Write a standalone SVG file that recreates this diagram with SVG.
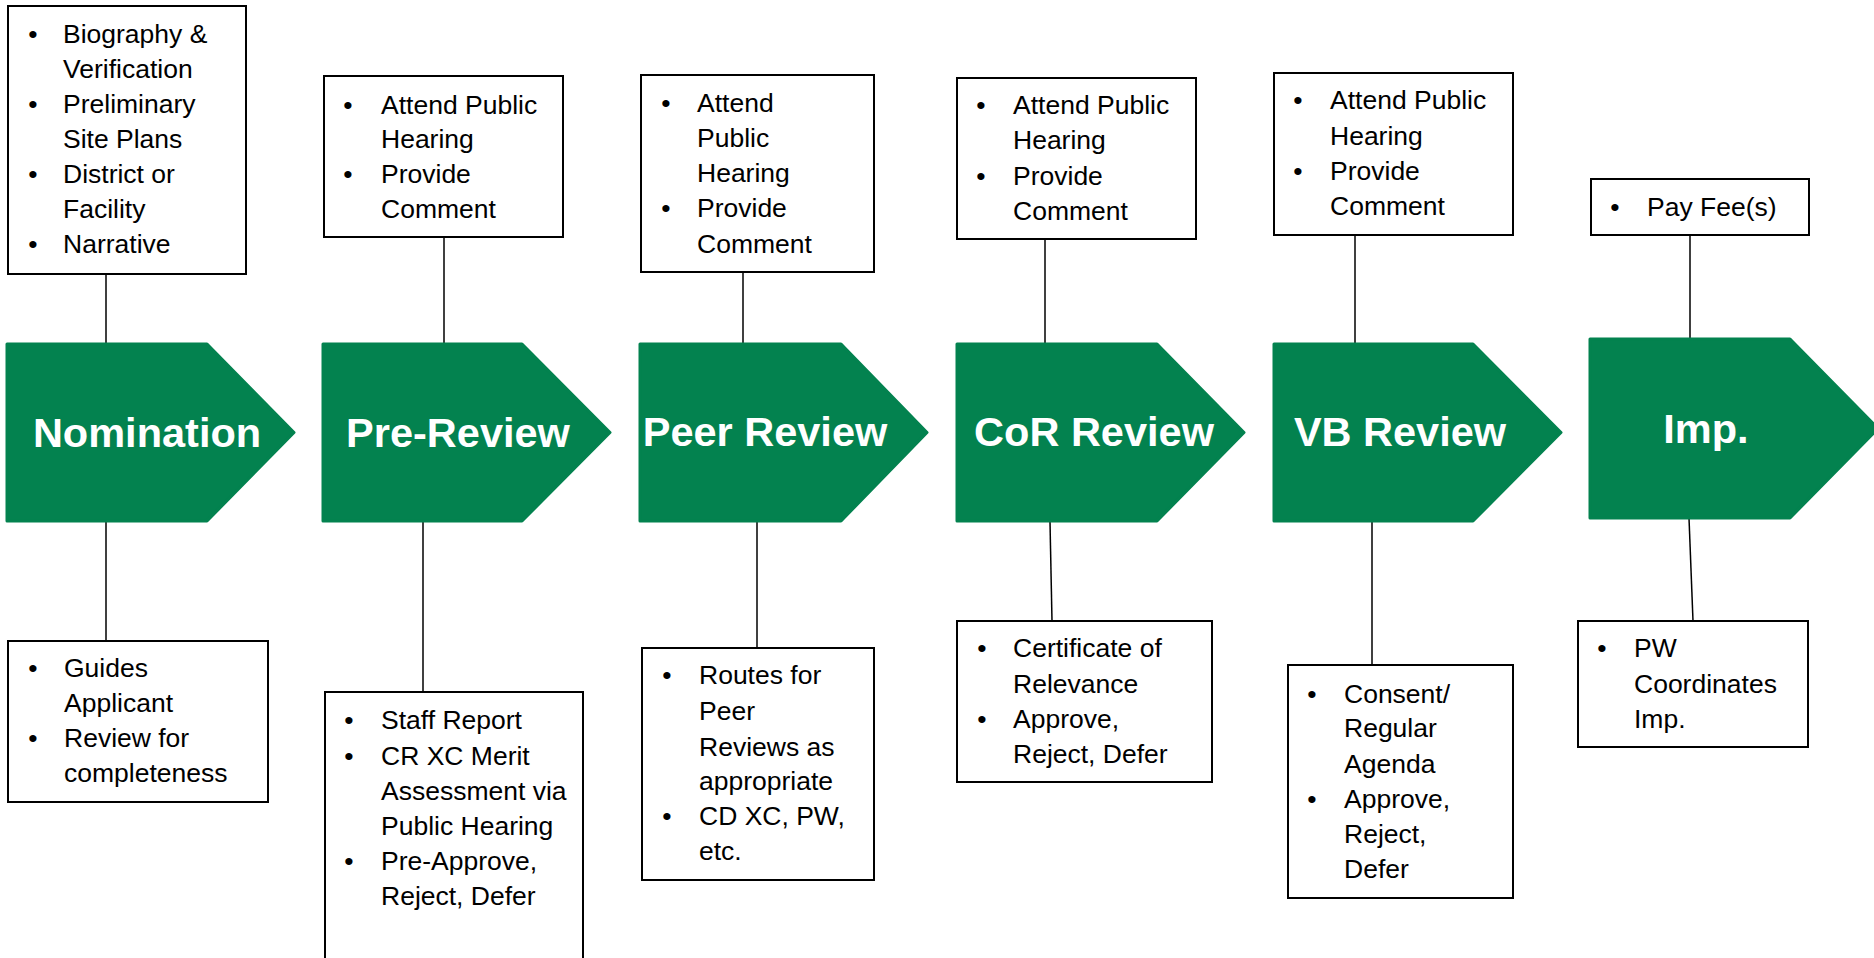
<svg xmlns="http://www.w3.org/2000/svg" width="1874" height="958" viewBox="0 0 1874 958">
<style>
.bg{fill:#ffffff}
.chev{fill:#03824f;stroke:#03824f;stroke-width:3;stroke-linejoin:round}
.lbl{font-family:"Liberation Sans",Arial,sans-serif;font-weight:bold;font-size:41.5px;fill:#ffffff;text-anchor:middle}
.box{fill:#ffffff;stroke:#000000;stroke-width:2}
.t{font-family:"Liberation Sans",Arial,sans-serif;font-size:26.5px;fill:#000000}
.b{font-family:"Liberation Sans",Arial,sans-serif;font-size:26.5px;fill:#000000;text-anchor:middle}
.conn line{stroke:#000000;stroke-width:1.5}
</style>
<rect class="bg" x="0" y="0" width="1874" height="958"/>

<g id="connectors" class="conn">
  <line x1="106" y1="274" x2="106" y2="343"/>
  <line x1="106" y1="522" x2="106" y2="641"/>
  <line x1="444" y1="237" x2="444" y2="347"/>
  <line x1="423" y1="522" x2="423" y2="692"/>
  <line x1="743" y1="272" x2="743" y2="343"/>
  <line x1="757" y1="522" x2="757" y2="648"/>
  <line x1="1045" y1="239" x2="1045" y2="343"/>
  <line x1="1050" y1="522" x2="1052" y2="621"/>
  <line x1="1355" y1="235" x2="1355" y2="343"/>
  <line x1="1372" y1="522" x2="1372" y2="665"/>
  <line x1="1690" y1="235" x2="1690" y2="339"/>
  <line x1="1689" y1="518" x2="1693" y2="621"/>
</g>

<g id="nomination">
  <path class="chev" d="M7,344 L207,344 L294,432.5 L207,521 L7,521 Z"/>
  <text class="lbl" x="147" y="447">Nomination</text>
</g>
<g id="pre-review">
  <path class="chev" d="M323,344 L522,344 L610,432.5 L522,521 L323,521 Z"/>
  <text class="lbl" x="458" y="447">Pre-Review</text>
</g>
<g id="peer-review">
  <path class="chev" d="M640,344 L841,344 L927,432.5 L841,521 L640,521 Z"/>
  <text class="lbl" x="765" y="446">Peer Review</text>
</g>
<g id="cor-review">
  <path class="chev" d="M957,344 L1157,344 L1244,432.5 L1157,521 L957,521 Z"/>
  <text class="lbl" x="1094" y="446">CoR Review</text>
</g>
<g id="vb-review">
  <path class="chev" d="M1274,344 L1473,344 L1561,432.5 L1473,521 L1274,521 Z"/>
  <text class="lbl" x="1400" y="446">VB Review</text>
</g>
<g id="imp">
  <path class="chev" d="M1590,339 L1790,339 L1878,428.5 L1790,518 L1590,518 Z"/>
  <text class="lbl" x="1706" y="443">Imp.</text>
</g>

<g id="nomination-top">
  <rect class="box" x="8" y="6" width="238" height="268"/>
  <text class="b" x="33" y="43">•</text><text class="t" x="63" y="43">Biography &amp;</text>
  <text class="t" x="63" y="78">Verification</text>
  <text class="b" x="33" y="113">•</text><text class="t" x="63" y="113">Preliminary</text>
  <text class="t" x="63" y="148">Site Plans</text>
  <text class="b" x="33" y="183">•</text><text class="t" x="63" y="183">District or</text>
  <text class="t" x="63" y="218">Facility</text>
  <text class="b" x="33" y="253">•</text><text class="t" x="63" y="253">Narrative</text>
</g>
<g id="nomination-bottom">
  <rect class="box" x="8" y="641" width="260" height="161"/>
  <text class="b" x="33" y="677">•</text><text class="t" x="64" y="677">Guides</text>
  <text class="t" x="64" y="712">Applicant</text>
  <text class="b" x="33" y="747">•</text><text class="t" x="64" y="747">Review for</text>
  <text class="t" x="64" y="782">completeness</text>
</g>

<g id="pre-review-top">
  <rect class="box" x="324" y="76" width="239" height="161"/>
  <text class="b" x="348" y="114">•</text><text class="t" x="381" y="114">Attend Public</text>
  <text class="t" x="381" y="148">Hearing</text>
  <text class="b" x="348" y="183">•</text><text class="t" x="381" y="183">Provide</text>
  <text class="t" x="381" y="218">Comment</text>
</g>
<g id="pre-review-bottom">
  <rect class="box" x="325" y="692" width="258" height="290"/>
  <text class="b" x="349" y="729">•</text><text class="t" x="381" y="729">Staff Report</text>
  <text class="b" x="349" y="765">•</text><text class="t" x="381" y="765">CR XC Merit</text>
  <text class="t" x="381" y="800">Assessment via</text>
  <text class="t" x="381" y="835">Public Hearing</text>
  <text class="b" x="349" y="870">•</text><text class="t" x="381" y="870">Pre-Approve,</text>
  <text class="t" x="381" y="905">Reject, Defer</text>
</g>

<g id="peer-review-top">
  <rect class="box" x="641" y="75" width="233" height="197"/>
  <text class="b" x="666" y="112">•</text><text class="t" x="697" y="112">Attend</text>
  <text class="t" x="697" y="147">Public</text>
  <text class="t" x="697" y="182">Hearing</text>
  <text class="b" x="666" y="217">•</text><text class="t" x="697" y="217">Provide</text>
  <text class="t" x="697" y="253">Comment</text>
</g>
<g id="peer-review-bottom">
  <rect class="box" x="642" y="648" width="232" height="232"/>
  <text class="b" x="667" y="684">•</text><text class="t" x="699" y="684">Routes for</text>
  <text class="t" x="699" y="720">Peer</text>
  <text class="t" x="699" y="756">Reviews as</text>
  <text class="t" x="699" y="790">appropriate</text>
  <text class="b" x="667" y="825">•</text><text class="t" x="699" y="825">CD XC, PW,</text>
  <text class="t" x="699" y="860">etc.</text>
</g>

<g id="cor-review-top">
  <rect class="box" x="957" y="78" width="239" height="161"/>
  <text class="b" x="981" y="114">•</text><text class="t" x="1013" y="114">Attend Public</text>
  <text class="t" x="1013" y="149">Hearing</text>
  <text class="b" x="981" y="185">•</text><text class="t" x="1013" y="185">Provide</text>
  <text class="t" x="1013" y="220">Comment</text>
</g>
<g id="cor-review-bottom">
  <rect class="box" x="957" y="621" width="255" height="161"/>
  <text class="b" x="982" y="657">•</text><text class="t" x="1013" y="657">Certificate of</text>
  <text class="t" x="1013" y="693">Relevance</text>
  <text class="b" x="982" y="728">•</text><text class="t" x="1013" y="728">Approve,</text>
  <text class="t" x="1013" y="763">Reject, Defer</text>
</g>

<g id="vb-review-top">
  <rect class="box" x="1274" y="73" width="239" height="162"/>
  <text class="b" x="1298" y="109">•</text><text class="t" x="1330" y="109">Attend Public</text>
  <text class="t" x="1330" y="145">Hearing</text>
  <text class="b" x="1298" y="180">•</text><text class="t" x="1330" y="180">Provide</text>
  <text class="t" x="1330" y="215">Comment</text>
</g>
<g id="vb-review-bottom">
  <rect class="box" x="1288" y="665" width="225" height="233"/>
  <text class="b" x="1312" y="703">•</text><text class="t" x="1344" y="703">Consent/</text>
  <text class="t" x="1344" y="737">Regular</text>
  <text class="t" x="1344" y="773">Agenda</text>
  <text class="b" x="1312" y="808">•</text><text class="t" x="1344" y="808">Approve,</text>
  <text class="t" x="1344" y="843">Reject,</text>
  <text class="t" x="1344" y="878">Defer</text>
</g>

<g id="imp-top">
  <rect class="box" x="1591" y="179" width="218" height="56"/>
  <text class="b" x="1615" y="216">•</text><text class="t" x="1647" y="216">Pay Fee(s)</text>
</g>
<g id="imp-bottom">
  <rect class="box" x="1578" y="621" width="230" height="126"/>
  <text class="b" x="1602" y="657">•</text><text class="t" x="1634" y="657">PW</text>
  <text class="t" x="1634" y="693">Coordinates</text>
  <text class="t" x="1634" y="728">Imp.</text>
</g>
</svg>
